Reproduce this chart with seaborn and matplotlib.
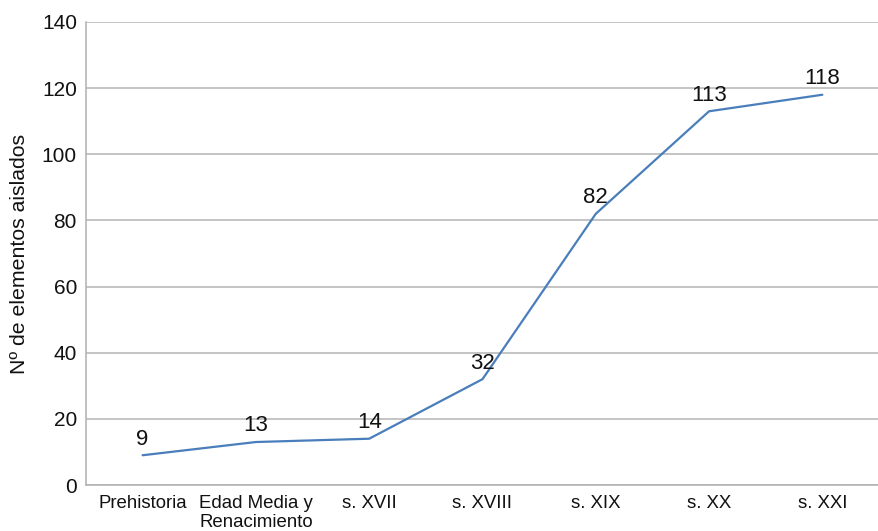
import matplotlib
matplotlib.use("Agg")
import matplotlib.pyplot as plt
import seaborn as sns
import pandas as pd

# Número de elementos aislados por periodo
periodos = ["Prehistoria", "Edad Media y\nRenacimiento", "s. XVII", "s. XVIII",
            "s. XIX", "s. XX", "s. XXI"]
elementos = [9, 13, 14, 32, 82, 113, 118]
y_ticks = [0, 20, 40, 60, 80, 100, 120, 140]

sns.set_style("white")
plt.rcParams["font.family"] = ["Liberation Sans", "DejaVu Sans"]

df = pd.DataFrame({"periodo": periodos, "n": elementos})
df["pos"] = range(len(df))

fig = plt.figure(figsize=(8.79, 5.31), dpi=100)
ax = fig.add_axes([0.0978, 0.0866, 0.9022, 0.872])

sns.lineplot(data=df, x="pos", y="n", ax=ax, color="#4a7ebb", linewidth=1.6)

for x, v in zip(df["pos"], df["n"]):
    ax.annotate(str(v), (x, v), xytext=(0, 4), textcoords="offset points",
                ha="center", va="bottom", fontsize=16, color="#111111")

ax.set_xlim(-0.5, len(periodos) - 0.5)
ax.set_ylim(0, 140)
ax.set_yticks(y_ticks)
ax.set_xticks(df["pos"])
ax.set_xticklabels(periodos, fontsize=13.4, linespacing=1.15)
ax.tick_params(axis="y", labelsize=15, length=0, pad=6.5, colors="#111111")
ax.tick_params(axis="x", direction="in", length=5, width=1, color="#b0b0b0",
               pad=7, labelcolor="#111111")
ax.yaxis.grid(True, color="#b4b4b4", linewidth=1.1)
ax.set_axisbelow(True)

for side in ["top", "right"]:
    ax.spines[side].set_visible(False)
for side in ["left", "bottom"]:
    ax.spines[side].set_color("#b0b0b0")
    ax.spines[side].set_linewidth(1.1)

ax.set_xlabel("")
ax.set_ylabel("Nº de elementos aislados", fontsize=15.3, labelpad=9,
              color="#111111")

fig.savefig("out.png", dpi=100)
